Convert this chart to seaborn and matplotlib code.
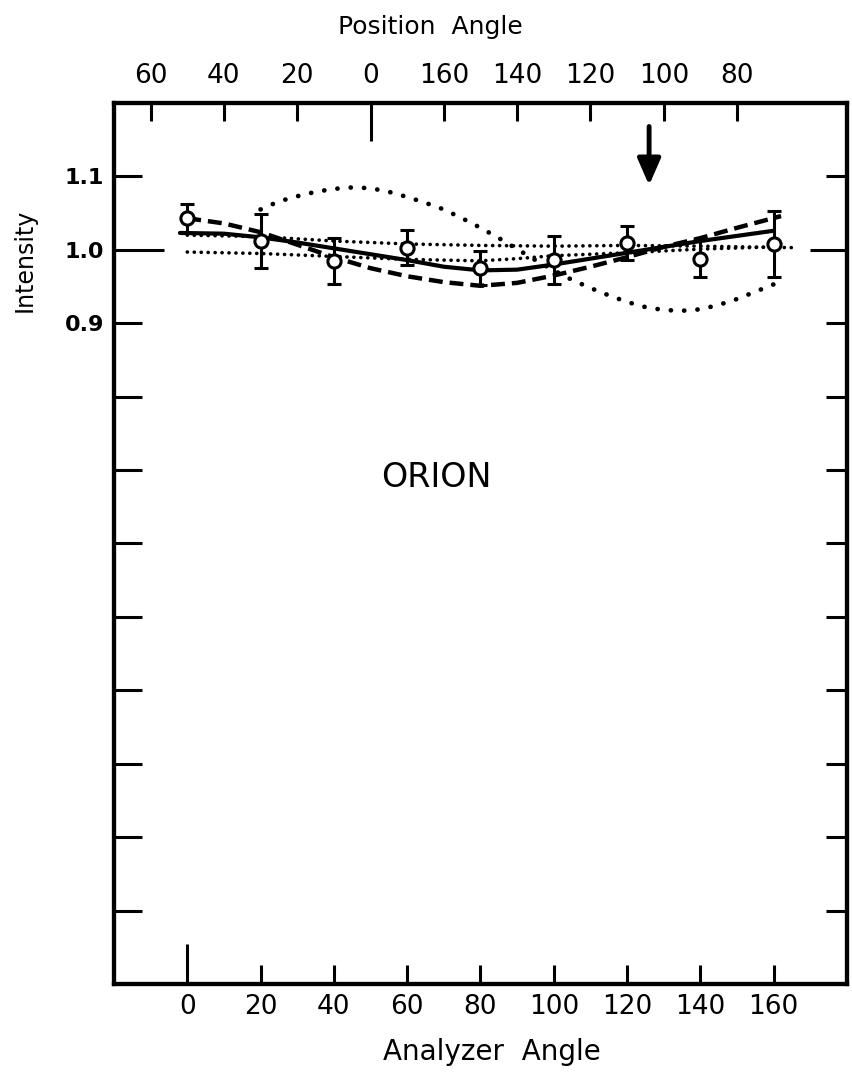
import numpy as np
import pandas as pd
import matplotlib
matplotlib.use("Agg")
import matplotlib.pyplot as plt
import seaborn as sns

sns.set_style("white")
plt.rcParams['lines.scale_dashes'] = False
plt.rcParams['font.family'] = ['DejaVu Sans']
plt.rcParams['text.color'] = 'black'
plt.rcParams['xtick.color'] = 'black'
plt.rcParams['ytick.color'] = 'black'

# measured points (analyzer angle, intensity, error)
analyzer = [0, 20, 40, 60, 80, 100, 120, 140, 160]
intensity = [1.043, 1.012, 0.985, 1.003, 0.975, 0.986, 1.009, 0.988, 1.008]
error = [0.020, 0.037, 0.031, 0.024, 0.023, 0.033, 0.023, 0.025, 0.045]

# solid fit
solid_x = [-2, 10, 20, 30, 40, 50, 60, 70, 80, 90, 100, 110, 120, 130, 140, 150, 160]
solid_y = [1.023, 1.022, 1.017, 1.010, 1.002, 0.994, 0.986, 0.977, 0.972, 0.973,
           0.980, 0.988, 0.996, 1.004, 1.012, 1.019, 1.026]

# dashed fit
dash_x = [0, 10, 20, 30, 40, 50, 60, 70, 80, 90, 100, 110, 120, 130, 140, 150, 162]
dash_y = [1.043, 1.036, 1.024, 1.007, 0.990, 0.975, 0.964, 0.956, 0.951, 0.955,
          0.965, 0.977, 0.990, 1.004, 1.016, 1.030, 1.046]

# two flat dotted curves
upper_x = [0, 20, 40, 60, 80, 100, 120, 140, 165]
upper_y = [1.020, 1.018, 1.012, 1.008, 1.006, 1.005, 1.006, 1.005, 1.003]
lower_x = [0, 20, 40, 60, 80, 90, 100, 120, 140, 160]
lower_y = [0.997, 0.995, 0.991, 0.987, 0.985, 0.988, 0.992, 0.996, 1.001, 1.004]

# large dotted curve
big_x = list(range(20, 165, 5))
big_y = [1.055, 1.066, 1.073, 1.079, 1.083, 1.085, 1.084, 1.079, 1.072, 1.064,
         1.055, 1.043, 1.030, 1.016, 1.001, 0.986, 0.972, 0.959, 0.948, 0.938,
         0.929, 0.922, 0.918, 0.917, 0.919, 0.925, 0.933, 0.943, 0.953]

an_ticks = [0, 20, 40, 60, 80, 100, 120, 140, 160]
pa_ticks = [-10, 10, 30, 50, 70, 90, 110, 130, 150]
pa_labels = ['60', '40', '20', '0', '160', '140', '120', '100', '80']
y_ticks = [0.1, 0.2, 0.3, 0.4, 0.5, 0.6, 0.7, 0.8, 0.9, 1.0, 1.1]
y_labels = ['', '', '', '', '', '', '', '', '0.9', '1.0', '1.1']

fig = plt.figure(figsize=(8.53, 10.74), dpi=100)
ax = fig.add_axes([0.1336, 0.0838, 0.8594, 0.8203])

sns.lineplot(x=solid_x, y=solid_y, ax=ax, color='black', lw=3.0)
sns.lineplot(x=dash_x, y=dash_y, ax=ax, color='black', lw=3.2,
             linestyle=(0, (10, 5)))
sns.lineplot(x=upper_x, y=upper_y, ax=ax, color='black', lw=2.6,
             linestyle=(0, (0.1, 4.9)), dash_capstyle='round')
sns.lineplot(x=lower_x, y=lower_y, ax=ax, color='black', lw=2.6,
             linestyle=(0, (0.1, 4.9)), dash_capstyle='round')
sns.lineplot(x=big_x, y=big_y, ax=ax, color='black', lw=3.4,
             linestyle=(0, (0.1, 9.5)), dash_capstyle='round')

ax.errorbar(analyzer, intensity, yerr=error, fmt='o', ms=9.5, mfc='white',
            mec='black', mew=2.2, ecolor='black', elinewidth=2.2,
            capsize=5, capthick=2.2, zorder=5)

ax.set_xlim(-20, 180)
ax.set_ylim(0, 1.2)
ax.set_xticks(an_ticks)
ax.set_xticklabels([str(t) for t in an_ticks])
ax.set_yticks(y_ticks)
ax.set_yticklabels(y_labels)

ax.tick_params(axis='x', direction='in', length=14, width=2.2, labelsize=19,
               pad=7, bottom=True, top=False)
ax.tick_params(axis='y', direction='in', length=20, width=2.2, labelsize=16,
               pad=7, left=True, right=True)
for t in ax.yaxis.get_major_ticks():
    t.tick2line.set_markersize(15)
ax.yaxis.get_major_ticks()[9].tick1line.set_markersize(36)
ax.yaxis.get_major_ticks()[9].tick2line.set_markersize(27)
ax.xaxis.get_major_ticks()[0].tick1line.set_markersize(29)
for lab in ax.get_yticklabels():
    lab.set_fontweight('bold')

ax2 = ax.twiny()
ax2.set_xlim(ax.get_xlim())
ax2.set_xticks(pa_ticks)
ax2.set_xticklabels(pa_labels)
ax2.tick_params(axis='x', direction='in', length=13, width=2.2, labelsize=19,
                pad=10)
ax2.xaxis.get_major_ticks()[3].tick2line.set_markersize(27)

for a in (ax, ax2):
    for s in a.spines.values():
        s.set_linewidth(3.0)
        s.set_color('black')

ax.text(68, 0.69, 'ORION', fontsize=24, ha='center', va='center')
ax.annotate('', xy=(126, 1.088), xytext=(126, 1.168),
            arrowprops=dict(arrowstyle='-|>,head_length=0.8,head_width=0.35',
                            lw=3.5, color='black', mutation_scale=20,
                            shrinkA=0, shrinkB=0))

fig.text(430 / 853, 1 - 27 / 1074, 'Position  Angle', ha='center',
         va='center', fontsize=18)
fig.text(492 / 853, 1 - 1052 / 1074, 'Analyzer  Angle', ha='center',
         va='center', fontsize=20)
fig.text(25 / 853, 1 - 260 / 1074, 'Intensity', ha='center', va='center',
         rotation=90, fontsize=17)

fig.savefig('out.png', dpi=100)
